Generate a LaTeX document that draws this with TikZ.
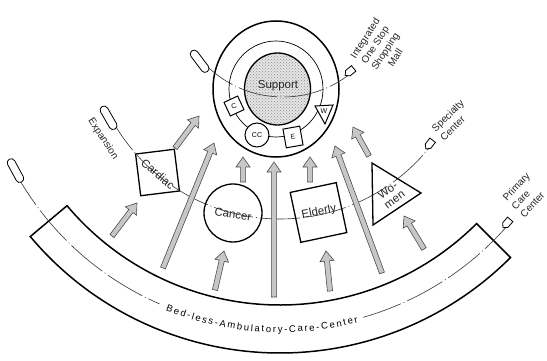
\documentclass[tikz,border=0pt]{standalone}
\usepackage{fontspec}
\setmainfont{Liberation Sans}
\usetikzlibrary{calc,shapes.misc,shapes.symbols,shapes.geometric,decorations.text,patterns}

\tikzset{
  thickline/.style={line width=1.5pt},
  shapeline/.style={draw, line width=1.3pt, inner sep=0pt},
  guide/.style={line width=0.6pt, black!80, dash pattern=on 40pt off 3pt on 1pt off 3pt},
  harrow/.style={draw=black!70, fill=black!22, line width=0.6pt, line join=miter},
  lbl/.style={font=\fontsize{10}{12}\selectfont, inner sep=0pt, text=black!85},
  inlbl/.style={font=\fontsize{11.5}{11.5}\selectfont, inner sep=0pt, text=black!85},
  tinylbl/.style={font=\fontsize{7}{7}\selectfont},
  smallshape/.style={draw, line width=1pt, fill=white, inner sep=0pt},
  capsule/.style={rounded rectangle, draw, line width=0.8pt, fill=white, minimum width=26pt, minimum height=8pt, inner sep=0pt},
  tipmark/.style={signal, signal to=east, draw, line width=0.8pt, fill=white, minimum width=11pt, minimum height=7pt, inner sep=0pt},
}

\newcommand\hollowarrow[2]{%
  \coordinate (hb) at ($(#2)!10pt!(#1)$);
  \draw[harrow] ($(#1)!2.6pt!90:(#2)$) -- ($(hb)!2.6pt!-90:(#1)$) -- ($(hb)!7pt!-90:(#1)$) -- (#2)
     -- ($(hb)!7pt!90:(#1)$) -- ($(hb)!2.6pt!90:(#1)$) -- ($(#1)!2.6pt!-90:(#2)$) -- cycle;}

\begin{document}
\begin{tikzpicture}[x=1pt, y=-1pt]
\useasboundingbox (0,0) rectangle (547,361);

\coordinate (O) at (280,27);
\coordinate (O3) at (283,-12);
\coordinate (C) at (276,89);

% ---------- band ----------
\draw[thickline, line join=miter]
  ($(O)+(45:278)$) arc[start angle=45, end angle=140, radius=278]
  -- ($(O)+(140:326)$) arc[start angle=140, end angle=45, radius=326] -- cycle;

% ---------- guide line 1 (band) ----------
\coordinate (l1a) at ($(O)+(151.5:302)$);
\coordinate (l1b) at ($(O)+(74:302)$);
\draw[guide] (l1a) arc[start angle=151.5, end angle=113.5, radius=302];
\draw[guide] (l1b) arc[start angle=74, end angle=40.6, radius=302];
\path[decorate, decoration={text along path, text align={fit to path}, raise=-3.5pt,
  text={|\fontsize{9.5}{9.5}\selectfont|Bed-less-Ambulatory-Care-Center}}]
  ($(O)+(112:302)$) arc[start angle=112, end angle=75.2, radius=302];
\node[capsule, rotate=-61.5] (cap1) at ($(O)+(151.5:301)$) {};
\node[tipmark, rotate=-130.6] (tip1) at ($(O)+(40.6:300)$) {};
\node[lbl, rotate=47, align=left] (primary) at (525,195) {Primary\\Care\\Center};

% ---------- guide line 2 ----------
\coordinate (l2a) at ($(O)+(152.1:192)$);
\draw[guide] (l2a) arc[start angle=152.1, end angle=37.7, radius=192];
\node[capsule, rotate=-60] (cap2) at ($(O)+(152.1:194)$) {};
\node[tipmark, rotate=-127.7] (tip2) at ($(O)+(37.7:190)$) {};
\node[lbl, rotate=-57] (expansion) at (103,139) {Expansion};
\node[lbl, rotate=45, align=left] (specialty) at (452,120) {Specialty\\Center};

% ---------- disease shapes ----------
\node[shapeline, minimum width=39pt, minimum height=42pt, rotate=7] (cardiac) at (157.5,172.5) {};
\node[inlbl, rotate=-40] (cardiactext) at (158,174) {Cardiac};
\node[shapeline, circle, minimum size=58pt] (cancer) at (233,213) {};
\node[inlbl, rotate=-9] (cancertext) at (233,214) {Cancer};
\node[shapeline, minimum width=47pt, minimum height=51pt, rotate=12] (elderly) at (318.5,212.5) {};
\node[inlbl, rotate=11] (elderlytext) at (319,212) {Elderly};
\coordinate (w1) at (372,163);
\coordinate (w2) at (421,193);
\coordinate (w3) at (373,225);
\draw[line width=1.3pt, line join=miter] (w1) -- (w2) -- (w3) -- cycle;
\node[inlbl, rotate=36, align=center] (women) at (391,195) {Wo-\\men};

% ---------- top circle ----------
\draw[thickline] (C) ellipse[x radius=63, y radius=68];
\draw[line width=0.7pt] (C) ellipse[x radius=47, y radius=48];
\fill[black!10] (277.5,89) ellipse[x radius=33, y radius=36];
\fill[pattern=crosshatch dots, pattern color=black!45] (277.5,89) ellipse[x radius=33, y radius=36];
\draw[line width=1.3pt] (277.5,89) ellipse[x radius=33, y radius=36];
\node[inlbl] (support) at (278,86) {Support};

% guide line 3
\coordinate (l3a) at ($(O3)+(138.7:109)$);
\draw[guide] (l3a) arc[start angle=138.7, end angle=50.7, radius=109];
\node[capsule, rotate=-53] (cap3) at ($(O3)+(138.7:111)$) {};
\node[tipmark, rotate=-140.7] (tip3) at ($(O3)+(50.7:107)$) {};
\node[lbl, rotate=57, align=center] (mall) at (380,48) {Integrated\\One Stop\\Shopping\\Mall};

% small shapes on ring
\node[smallshape, minimum size=15pt, rotate=25, tinylbl] (s1) at (234,106) {C};
\node[smallshape, circle, minimum size=24pt, tinylbl] (s2) at (257,135) {CC};
\node[smallshape, minimum width=17pt, minimum height=19pt, rotate=10, tinylbl] (s3) at (293,137) {E};
\coordinate (t1) at (315,106);
\coordinate (t2) at (333,105);
\coordinate (t3) at (325,124);
\draw[smallshape, line join=miter] (t1) -- (t2) -- (t3) -- cycle;
\node[tinylbl, inner sep=0pt] (s4) at (324,111) {W};

% ---------- arrows ----------
\coordinate (a1t) at (112,236);  \coordinate (a1h) at (137,203);
\coordinate (a2t) at (175,148);  \coordinate (a2h) at (199,116);
\coordinate (a3t) at (163,268);  \coordinate (a3h) at (214,143);
\coordinate (a4t) at (243,182);  \coordinate (a4h) at (243,157);
\coordinate (a5t) at (215,290);  \coordinate (a5h) at (224,251);
\coordinate (a6t) at (274,297);  \coordinate (a6h) at (274,162);
\coordinate (a7t) at (310,182);  \coordinate (a7h) at (310,157);
\coordinate (a8t) at (330,291);  \coordinate (a8h) at (326,251);
\coordinate (a9t) at (382,273);  \coordinate (a9h) at (335,146);
\coordinate (a10t) at (369,156); \coordinate (a10h) at (353,127);
\coordinate (a11t) at (424,249); \coordinate (a11h) at (404,216);
\hollowarrow{a1t}{a1h}
\hollowarrow{a2t}{a2h}
\hollowarrow{a3t}{a3h}
\hollowarrow{a4t}{a4h}
\hollowarrow{a5t}{a5h}
\hollowarrow{a6t}{a6h}
\hollowarrow{a7t}{a7h}
\hollowarrow{a8t}{a8h}
\hollowarrow{a9t}{a9h}
\hollowarrow{a10t}{a10h}
\hollowarrow{a11t}{a11h}
\end{tikzpicture}
\end{document}
